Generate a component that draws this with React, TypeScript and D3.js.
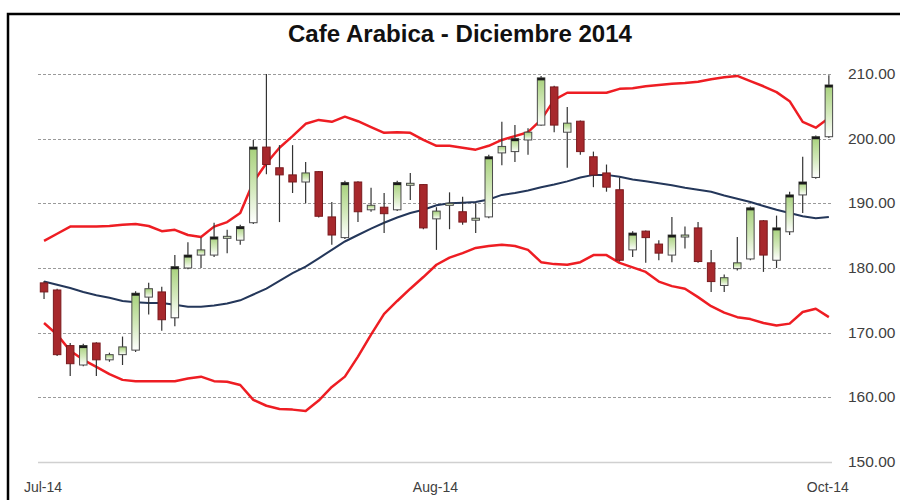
import React, { useEffect, useRef } from "react";
import * as d3 from "d3";

// daily candles
const opens = [177.7, 176.6, 168.0, 165.0, 168.4, 165.8, 166.6, 167.3, 175.5, 176.3,
  172.3, 180.0, 182.0, 182.0, 184.7, 184.3, 187.0, 198.7, 195.5, 194.4,
  193.3, 194.9, 187.9, 184.7, 193.3, 189.0, 189.4, 189.0, 192.9, 192.9,
  187.6, 189.8, 188.7, 187.5, 187.9, 197.8, 198.0, 199.8, 202.1, 208.0,
  201.0, 202.7, 197.2, 194.7, 192.1, 182.8, 185.7, 183.7, 182.0, 184.9,
  186.2, 180.8, 177.3, 179.9, 181.4, 187.3, 181.2, 185.6, 191.3, 194.0, 200.3];
const closes = [176.3, 166.6, 165.2, 168.0, 165.8, 166.6, 167.8, 176.1, 176.8, 172.0,
  180.2, 182.0, 182.8, 184.8, 184.9, 186.4, 198.7, 196.0, 194.4, 193.3,
  194.7, 188.0, 185.1, 193.2, 188.7, 189.7, 188.4, 193.2, 193.1, 186.2,
  188.8, 190.0, 187.1, 187.7, 197.2, 198.8, 200.0, 201.0, 209.4, 202.1,
  202.4, 198.0, 194.4, 192.5, 181.2, 185.4, 184.7, 182.3, 185.1, 185.1,
  181.0, 177.9, 178.5, 180.8, 189.3, 182.0, 186.2, 191.3, 193.3, 200.3, 208.3];
const highs = [178.0, 176.8, 168.4, 168.3, 168.5, 166.9, 169.4, 176.4, 177.7, 177.1,
  182.0, 184.0, 184.7, 187.0, 185.9, 186.7, 199.8, 210.0, 199.0, 199.0,
  196.4, 195.0, 190.2, 193.5, 193.4, 192.4, 191.6, 193.5, 194.7, 193.0,
  189.4, 191.7, 191.0, 190.0, 197.5, 202.6, 202.1, 201.6, 209.7, 208.2,
  204.9, 202.8, 198.0, 196.0, 194.0, 185.7, 185.8, 184.3, 187.9, 186.4,
  187.1, 182.8, 179.0, 184.8, 189.5, 187.4, 188.1, 191.8, 197.2, 200.5, 209.8];
const lows = [175.2, 166.4, 163.3, 164.8, 163.3, 165.5, 165.0, 167.0, 172.8, 170.3,
  171.0, 179.8, 180.0, 181.7, 182.3, 183.6, 186.8, 194.5, 187.1, 191.6,
  190.0, 187.8, 183.6, 184.5, 187.1, 188.7, 185.4, 188.8, 190.5, 186.0,
  182.8, 186.0, 186.7, 185.4, 187.7, 195.9, 196.4, 197.5, 202.0, 201.0,
  195.5, 197.5, 192.5, 191.8, 181.0, 181.7, 180.8, 181.2, 180.9, 183.0,
  180.8, 176.3, 176.3, 179.6, 181.2, 179.4, 180.0, 185.1, 188.5, 193.8, 200.1];

// bollinger bands
const upperBand = [184.2, 185.3, 186.4, 186.4, 186.4, 186.5, 186.7, 186.8, 186.5, 185.7,
  185.9, 185.1, 184.8, 186.4, 187.1, 188.5, 193.3, 196.2, 198.6, 200.4,
  202.3, 202.9, 202.6, 203.4, 202.7, 201.8, 200.9, 201.0, 200.9, 199.8,
  198.9, 198.9, 198.6, 198.3, 198.9, 199.8, 200.4, 201.0, 202.9, 206.0,
  207.1, 207.1, 207.1, 207.1, 207.7, 207.8, 208.1, 208.3, 208.5, 208.6,
  208.8, 209.2, 209.5, 209.7, 208.9, 208.1, 207.2, 205.8, 202.6, 201.7, 203.2];
const middleBand = [177.9, 177.4, 176.9, 176.3, 175.8, 175.4, 174.9, 174.7, 174.6, 174.6,
  174.3, 174.0, 174.0, 174.2, 174.5, 175.0, 175.9, 176.8, 178.0, 179.2,
  180.2, 181.5, 182.8, 184.1, 185.1, 186.1, 187.0, 187.8, 188.5, 189.0,
  189.7, 190.0, 190.1, 190.2, 190.6, 191.3, 191.6, 192.0, 192.5, 192.9,
  193.4, 194.0, 194.4, 194.4, 194.1, 193.7, 193.4, 193.1, 192.8, 192.4,
  192.1, 191.8, 191.2, 190.7, 190.2, 189.6, 189.0, 188.5, 188.0, 187.7, 187.9];
const lowerBand = [171.5, 169.7, 167.2, 165.8, 164.7, 163.6, 162.7, 162.5, 162.5, 162.5,
  162.5, 162.9, 163.2, 162.5, 162.4, 161.9, 159.6, 158.7, 158.2, 158.1,
  157.9, 159.5, 161.6, 163.2, 166.3, 169.7, 172.9, 174.9, 176.8, 178.6,
  180.5, 181.6, 182.3, 183.1, 183.4, 183.6, 183.4, 182.8, 180.9, 180.6,
  180.5, 180.9, 182.0, 182.0, 180.8, 180.1, 179.4, 177.9, 177.2, 176.8,
  175.5, 174.1, 173.1, 172.4, 172.1, 171.5, 171.1, 171.4, 173.2, 173.7, 172.4];

const yTicks = [150, 160, 170, 180, 190, 200, 210];
const xTickIndex = [0, 30, 60];
const xTickLabels = ["Jul-14", "Aug-14", "Oct-14"];

export default function App() {
  const ref = useRef<SVGSVGElement>(null);

  useEffect(() => {
    const svg = d3.select(ref.current);
    svg.selectAll("*").remove();

    const n = opens.length;
    const idx = d3.range(n);

    const x = d3.scaleBand<number>()
      .domain(idx)
      .range([37.5, 835.4])
      .padding(0);
    const cx = (i: number) => (x(i) as number) + x.bandwidth() / 2;
    const y = d3.scaleLinear().domain([150, 210]).range([462, 74]);

    const defs = svg.append("defs");
    const grad = defs.append("linearGradient")
      .attr("id", "upGrad")
      .attr("x1", 0).attr("y1", 0).attr("x2", 0).attr("y2", 1);
    grad.append("stop").attr("offset", "0%").attr("stop-color", "#a6d07a");
    grad.append("stop").attr("offset", "55%").attr("stop-color", "#d3e9bb");
    grad.append("stop").attr("offset", "100%").attr("stop-color", "#ffffff");

    // frame
    svg.append("rect")
      .attr("x", 8).attr("y", 14)
      .attr("width", 1000).attr("height", 1000)
      .attr("fill", "#fff")
      .attr("stroke", "#000")
      .attr("stroke-width", 2.5);

    // title
    svg.append("text")
      .attr("x", 460).attr("y", 42)
      .attr("text-anchor", "middle")
      .attr("font-family", "Liberation Sans, Arial, sans-serif")
      .attr("font-weight", "bold")
      .attr("font-size", 23)
      .attr("textLength", 344)
      .attr("lengthAdjust", "spacingAndGlyphs")
      .attr("fill", "#111")
      .text("Cafe Arabica - Diciembre 2014");

    // grid lines
    svg.append("g")
      .selectAll("line")
      .data(yTicks)
      .join("line")
      .attr("x1", 38).attr("x2", 832)
      .attr("y1", d => Math.round(y(d)) + 0.5)
      .attr("y2", d => Math.round(y(d)) + 0.5)
      .attr("stroke", d => (d === 150 ? "#d0d0d0" : "#9a9a9a"))
      .attr("stroke-width", d => (d === 150 ? 1.5 : 1))
      .attr("stroke-dasharray", d => (d === 150 ? null : "3,2"));

    // y axis labels on the right
    svg.append("g")
      .selectAll("text")
      .data(yTicks)
      .join("text")
      .attr("x", 848)
      .attr("y", d => y(d) + 5)
      .attr("font-family", "Liberation Sans, Arial, sans-serif")
      .attr("font-size", 15.5)
      .attr("fill", "#404040")
      .text(d => d3.format(".2f")(d));

    // x axis labels
    svg.append("g")
      .selectAll("text")
      .data(xTickIndex)
      .join("text")
      .attr("x", d => cx(d) - 1)
      .attr("y", 492)
      .attr("text-anchor", "middle")
      .attr("font-family", "Liberation Sans, Arial, sans-serif")
      .attr("font-size", 14)
      .attr("fill", "#404040")
      .text((d, k) => xTickLabels[k]);

    // bands
    const line = d3.line<number>()
      .x((d, i) => cx(i))
      .y(d => y(d));

    svg.append("path")
      .datum(middleBand)
      .attr("d", line)
      .attr("fill", "none")
      .attr("stroke", "#24375a")
      .attr("stroke-width", 2);

    [upperBand, lowerBand].forEach(band => {
      svg.append("path")
        .datum(band)
        .attr("d", line)
        .attr("fill", "none")
        .attr("stroke", "#ee1d23")
        .attr("stroke-width", 2.5)
        .attr("stroke-linejoin", "round");
    });

    // candles
    const bw = 7.5;
    const candles = svg.append("g")
      .selectAll("g")
      .data(idx)
      .join("g");

    candles.append("line")
      .attr("x1", i => cx(i)).attr("x2", i => cx(i))
      .attr("y1", i => y(highs[i])).attr("y2", i => y(lows[i]))
      .attr("stroke", "#333")
      .attr("stroke-width", 1.2);

    candles.append("rect")
      .attr("x", i => cx(i) - bw / 2)
      .attr("width", bw)
      .attr("y", i => y(Math.max(opens[i], closes[i])))
      .attr("height", i => Math.max(2, Math.abs(y(opens[i]) - y(closes[i]))))
      .attr("fill", i => (closes[i] >= opens[i] ? "url(#upGrad)" : "#a7282c"))
      .attr("stroke", i => (closes[i] >= opens[i] ? "#4a4a4a" : "#7a1a1e"))
      .attr("stroke-width", 1);

    // dark cap on rising candles
    candles.filter(i => closes[i] - opens[i] > 1.5)
      .append("rect")
      .attr("x", i => cx(i) - bw / 2)
      .attr("width", bw)
      .attr("y", i => y(closes[i]))
      .attr("height", 2.5)
      .attr("fill", "#1a1a1a");
  }, []);

  return (
    <svg
      ref={ref}
      width={900}
      height={500}
      style={{ position: "absolute", left: 0, top: 0, background: "#fff" }}
    />
  );
}
